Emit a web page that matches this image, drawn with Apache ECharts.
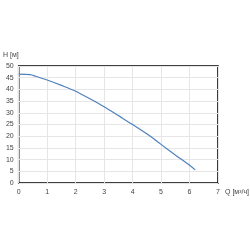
<!DOCTYPE html>
<html>
<head>
<meta charset="utf-8">
<title>H-Q</title>
<script src="https://cdn.jsdelivr.net/npm/echarts@6/dist/echarts.min.js"></script>
<style>html,body{margin:0;padding:0;background:#fff}</style>
</head>
<body>
<div id="chart" style="width:250px;height:250px;"></div>
<script>
// напор от подачи
var flowQ = [0, 0.4, 0.6, 1, 1.5, 2, 2.5, 3, 3.5, 4, 4.5, 5, 5.5, 6, 6.2];
var headH = [46.5, 46.3, 45.6, 44, 41.7, 39.2, 36, 32.6, 28.8, 25, 21, 16.5, 12, 7.6, 5.6];

var pts = [];
for (var i = 0; i < flowQ.length; i++) pts.push([flowQ[i], headH[i]]);

var myChart = echarts.init(document.getElementById('chart'));
var txt = {fontFamily: 'Liberation Sans', fontSize: 7, color: '#444'};
myChart.setOption({
    animation: false,
    grid: {left: 17, right: 32, top: 66, bottom: 67, show: true, borderColor: '#000', borderWidth: 1.5},
    xAxis: {
        type: 'value', min: 0, max: 7, interval: 1,
        name: 'Q [м³/ч]', nameLocation: 'end', nameGap: 7,
        nameTextStyle: {fontFamily: 'Liberation Sans', fontSize: 7, color: '#444', verticalAlign: 'top', padding: [6, 0, 0, 0]},
        axisLine: {show: false}, axisTick: {show: false},
        axisLabel: Object.assign({margin: 6}, txt),
        splitLine: {lineStyle: {color: '#e6e6e6', width: 1}}
    },
    yAxis: {
        type: 'value', min: 0, max: 50, interval: 5,
        name: 'H [м]', nameLocation: 'end', nameGap: 7,
        nameTextStyle: {fontFamily: 'Liberation Sans', fontSize: 7, color: '#444', align: 'right'},
        axisLine: {show: false}, axisTick: {show: false},
        axisLabel: Object.assign({margin: 5}, txt),
        splitLine: {lineStyle: {color: '#e6e6e6', width: 1}}
    },
    series: [{
        type: 'line', data: pts, smooth: 0.3, symbol: 'none',
        lineStyle: {color: '#4f81bd', width: 1.2}
    }]
});
</script>
</body>
</html>
